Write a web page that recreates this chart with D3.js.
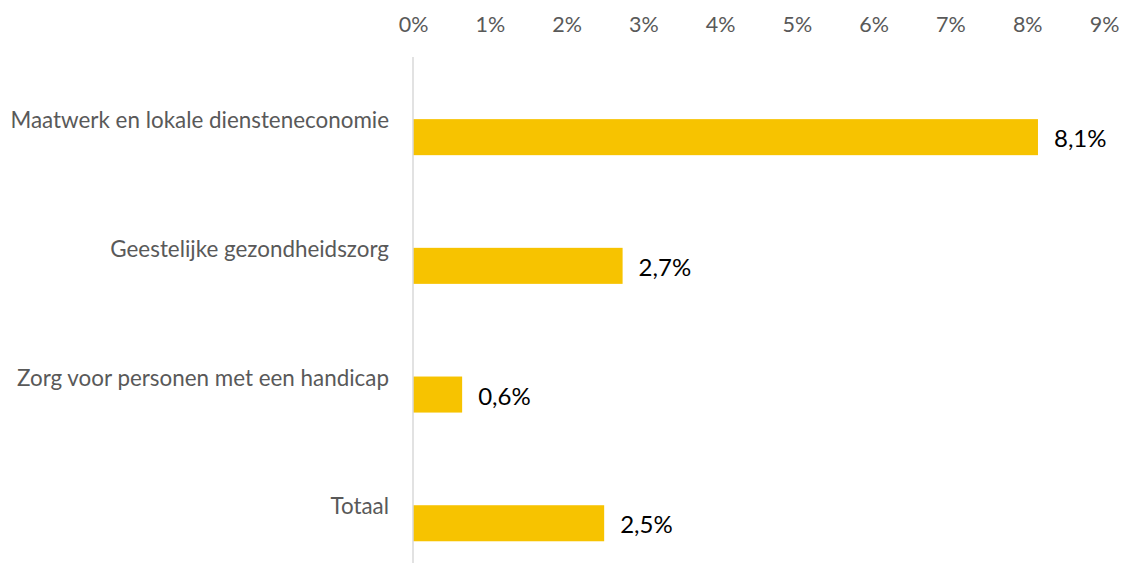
<!DOCTYPE html>
<html>
<head>
<meta charset="utf-8">
<script src="https://cdn.jsdelivr.net/npm/d3@7"></script>
<style>
  html, body { margin: 0; padding: 0; background: #fff; }
  svg { display: block; }
  text { font-family: Lato, "Open Sans", sans-serif; }
</style>
</head>
<body>
<svg id="chart" width="1122" height="563"></svg>
<script>
// Sectors and their share (in %)
const categories = [
  "Maatwerk en lokale diensteneconomie",
  "Geestelijke gezondheidszorg",
  "Zorg voor personen met een handicap",
  "Totaal"
];
const values = [8.14, 2.73, 0.64, 2.49];
const tickValues = [0, 1, 2, 3, 4, 5, 6, 7, 8, 9];

const svg = d3.select("#chart");
const W = 1122, H = 563;

const x = d3.scaleLinear().domain([0, 9]).range([413, 1104]);
const y = d3.scaleBand()
  .domain(categories)
  .range([72.8, 587.6])
  .paddingInner(0.72)
  .paddingOuter(0.36);

const fmt = v => d3.format(".1f")(v).replace(".", ",") + "%";

// top axis labels (no line, no ticks)
const xAxis = d3.axisTop(x)
  .tickValues(tickValues)
  .tickFormat(d => d + "%")
  .tickSize(0)
  .tickPadding(0);
const gx = svg.append("g")
  .attr("transform", "translate(0,32)")
  .call(xAxis);
gx.select(".domain").remove();
gx.selectAll("text")
  .attr("fill", "#595959")
  .style("font-size", "21.5px")
  .style("font-family", "Lato, sans-serif")
  .attr("dy", 0);

// bars
svg.append("g").selectAll("rect")
  .data(values)
  .join("rect")
  .attr("x", x(0))
  .attr("y", (d, i) => y(categories[i]))
  .attr("width", d => x(d) - x(0))
  .attr("height", y.bandwidth())
  .attr("fill", "#F7C300");

// vertical category axis line
svg.append("line")
  .attr("x1", x(0)).attr("x2", x(0))
  .attr("y1", 57).attr("y2", H)
  .attr("stroke", "#D9D9D9")
  .attr("stroke-width", 1.5);

// category labels, set slightly above the bar centre
svg.append("g").selectAll("text")
  .data(categories)
  .join("text")
  .attr("x", 389)
  .attr("y", d => y(d) + y.bandwidth() / 2 - 9)
  .attr("text-anchor", "end")
  .attr("fill", "#595959")
  .style("font-size", "22.4px")
  .text(d => d);

// value labels
svg.append("g").selectAll("text")
  .data(values)
  .join("text")
  .attr("x", d => x(d) + 16)
  .attr("y", (d, i) => y(categories[i]) + y.bandwidth() / 2 + 10)
  .attr("fill", "#000")
  .style("font-size", "24px")
  .text(d => fmt(d));
</script>
</body>
</html>
